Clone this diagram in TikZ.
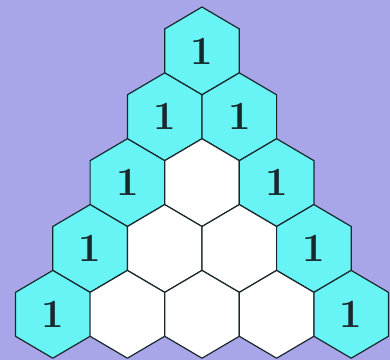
\documentclass[tikz,border=0pt]{standalone}
\usetikzlibrary{calc}
\definecolor{BackClr}{RGB}{168,166,232}
\definecolor{EdgeClr}{RGB}{104,244,244}
\definecolor{LineClr}{RGB}{25,40,45}

\begin{document}
\begin{tikzpicture}[x=1pt,y=-1pt,
  hexa/.style={draw=LineClr,line width=1.2pt,line join=round},
  numb/.style={inner sep=0pt,text=LineClr,font=\fontsize{40}{40}\selectfont\bfseries}]
\fill[BackClr] (0,0) rectangle (390,360);
\useasboundingbox (0,0) rectangle (390,360);

\def\hw{37.3}
\def\hs{43.9}

% rows of the triangle, top to bottom
\foreach \r in {0,...,4}{
  \foreach \k in {0,...,\r}{
    \pgfmathsetmacro\cx{202+(\k-\r/2)*74.6}
    \pgfmathsetmacro\cy{50.9+65.85*\r}
    \pgfmathtruncatemacro\edge{(\k==0)||(\k==\r)}
    \coordinate (c-\r-\k) at (\cx,\cy);
    \ifnum\edge=1
      \def\clr{EdgeClr}
    \else
      \def\clr{white}
    \fi
    \filldraw[hexa,fill=\clr] ($(c-\r-\k)+(0,-\hs)$) -- ++(\hw,\hs/2) -- ++(0,\hs)
      -- ++(-\hw,\hs/2) -- ++(-\hw,-\hs/2) -- ++(0,-\hs) -- cycle;
    \ifnum\edge=1
      \node[numb] (n-\r-\k) at (c-\r-\k) {1};
    \fi
  }
}

\end{tikzpicture}
\end{document}
